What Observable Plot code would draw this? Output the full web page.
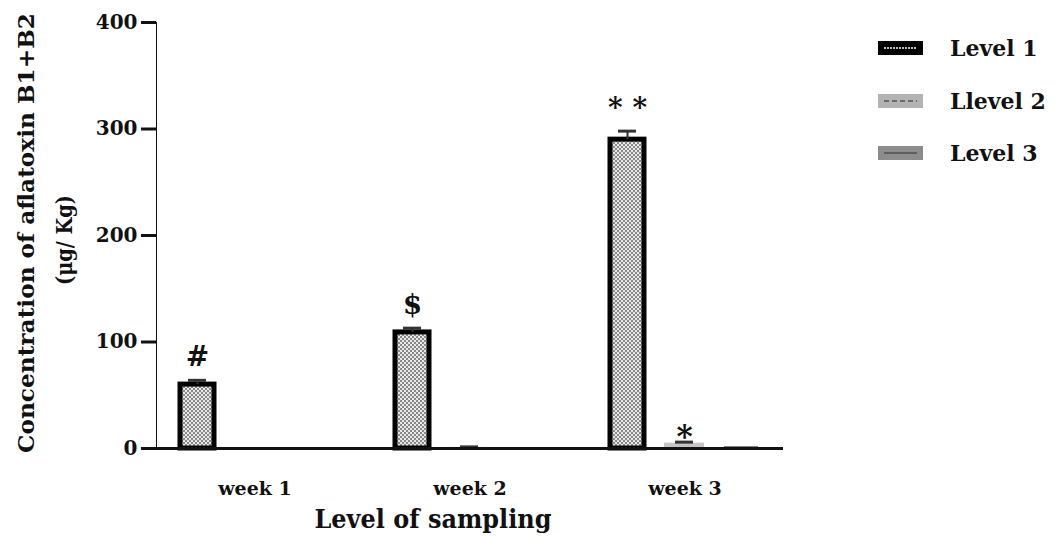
<!DOCTYPE html>
<html><head><meta charset="utf-8">
<script src="https://cdn.jsdelivr.net/npm/d3@7"></script>
<script src="https://cdn.jsdelivr.net/npm/@observablehq/plot@0.6"></script>
<style>
body{margin:0;background:#fff;}
#wrap{position:relative;width:1055px;height:538px;font-family:"DejaVu Serif",serif;font-weight:bold;color:#111;}
#legend{position:absolute;left:878px;top:22px;}
#legend .row{display:flex;align-items:center;height:52.5px;font-size:22px;}
#legend svg{margin-right:27px;}
svg.chart g[aria-label="y-axis tick"]{stroke-width:3px;}
svg.chart g[aria-label="y-axis line"]{stroke-width:3px;}
svg.chart g[aria-label="y-axis tick label"]{font-size:20px;}
</style></head><body><div id="wrap"><div id="legend"></div></div>
<script>
const weeks = ["week 1", "week 2", "week 3"];
const levels = ["Level 1", "Llevel 2", "Level 3"];
const level1 = [60, 109, 290];
const level1Err = [4, 4, 8];
const level2 = [0, 1, 5];
const level2Err = [0, 0.5, 1];
const level3 = [0, 0, 1.5];
const level3Err = [0, 0, 0];
const level1Notes = ["#", "$", "* *"];
const level2Notes = ["", "", "*"];
const yTicks = [0, 100, 200, 300, 400];

const series = [level1, level2, level3];
const errs = [level1Err, level2Err, level3Err];
const notes = [level1Notes, level2Notes, ["", "", ""]];
const rows = [];
weeks.forEach((w, i) => levels.forEach((l, j) => rows.push({
  week: w, level: l, value: series[j][i], err: errs[j][i], note: notes[j][i]
})));
const byLevel = l => rows.filter(d => d.level === l);
const withErr = rows.filter(d => d.err > 0);
const base = weeks.map(w => ({week: w, y: 0}));

const chart = Plot.plot({
  width: 1055, height: 538,
  marginTop: 22, marginBottom: 90, marginLeft: 155, marginRight: 270,
  className: "chart",
  style: {fontFamily: "DejaVu Serif", fontWeight: "bold", fontSize: "19px", color: "#111", background: "transparent"},
  fx: {domain: weeks, paddingInner: 0.0833, paddingOuter: 0, label: null, tickSize: 0, tickPadding: 33},
  x: {domain: levels, paddingInner: 0.4, paddingOuter: 0.407, axis: null},
  y: {domain: [0, 400], ticks: yTicks, tickSize: 15, tickPadding: 4, line: true, label: null},
  marks: [
    Plot.barY(byLevel("Level 1"), {fx: "week", x: "level", y: "value", fill: "url(#chk)", stroke: "#000", strokeWidth: 5}),
    Plot.barY(byLevel("Llevel 2"), {fx: "week", x: "level", y: "value", fill: "#c4c4c4", insetLeft: -3, insetRight: -3}),
    Plot.barY(byLevel("Level 3"), {fx: "week", x: "level", y: "value", fill: "#333"}),
    Plot.ruleX(withErr, {fx: "week", x: "level", y1: "value", y2: d => d.value + d.err, stroke: "#333", strokeWidth: 2}),
    Plot.tickY(withErr, {fx: "week", x: "level", y: d => d.value + d.err, insetLeft: 8, insetRight: 8, stroke: "#333", strokeWidth: 3}),
    Plot.text(byLevel("Level 1"), {fx: "week", x: "level", y: d => d.value + d.err, text: "note", lineAnchor: "bottom", dy: -14, fontSize: 28, fill: "#111"}),
    Plot.text(byLevel("Llevel 2"), {fx: "week", x: "level", y: d => d.value + d.err, text: "note", lineAnchor: "bottom", dy: 5, fontSize: 31, fill: "#111"}),
    Plot.ruleY(base.slice(0, 1), {fx: "week", y: "y", insetLeft: 0, insetRight: -10, stroke: "#111", strokeWidth: 3}),
    Plot.ruleY(base.slice(1, 2), {fx: "week", y: "y", insetLeft: -10, insetRight: -10, stroke: "#111", strokeWidth: 3}),
    Plot.ruleY(base.slice(2, 3), {fx: "week", y: "y", insetLeft: -10, insetRight: 0, stroke: "#111", strokeWidth: 3})
  ]
});

const svg = d3.select(chart);
const defs = svg.insert("defs", ":first-child");
const p = defs.append("pattern").attr("id", "chk").attr("width", 4).attr("height", 4).attr("patternUnits", "userSpaceOnUse");
p.append("rect").attr("width", 4).attr("height", 4).attr("fill", "#e6e6e6");
p.append("rect").attr("width", 2).attr("height", 2).attr("fill", "#8a8a8a");
p.append("rect").attr("x", 2).attr("y", 2).attr("width", 2).attr("height", 2).attr("fill", "#8a8a8a");

svg.append("text").attr("x", 433).attr("y", 528).attr("text-anchor", "middle")
  .attr("font-size", 26).attr("font-weight", "bold").attr("fill", "#111")
  .attr("textLength", 237).attr("lengthAdjust", "spacingAndGlyphs").text("Level of sampling");
svg.append("text").attr("transform", "translate(34,233) rotate(-90)").attr("text-anchor", "middle")
  .attr("font-size", 22).attr("font-weight", "bold").attr("fill", "#111")
  .attr("textLength", 440).attr("lengthAdjust", "spacingAndGlyphs").text("Concentration of aflatoxin B1+B2");
svg.append("text").attr("transform", "translate(72,240) rotate(-90)").attr("text-anchor", "middle")
  .attr("font-size", 22).attr("font-weight", "bold").attr("fill", "#111")
  .attr("textLength", 90).attr("lengthAdjust", "spacingAndGlyphs").text("(μg/ Kg)");

document.getElementById("wrap").prepend(chart);

const swatches = [
  {bg: "#000", line: "#bbb", dash: "2,1"},
  {bg: "#b3b3b3", line: "#6a6a6a", dash: "5,3"},
  {bg: "#8c8c8c", line: "#5e5e5e", dash: null}
];
const legend = d3.select("#legend");
levels.forEach((l, i) => {
  const row = legend.append("div").attr("class", "row");
  const s = row.append("svg").attr("width", 45).attr("height", 16);
  s.append("rect").attr("width", 45).attr("height", 14).attr("y", 1).attr("fill", swatches[i].bg);
  const ln = s.append("line").attr("x1", 6).attr("x2", 39).attr("y1", 8).attr("y2", 8)
    .attr("stroke", swatches[i].line).attr("stroke-width", 2);
  if (swatches[i].dash) ln.attr("stroke-dasharray", swatches[i].dash);
  row.append("span").text(l);
});
</script>
</body></html>
